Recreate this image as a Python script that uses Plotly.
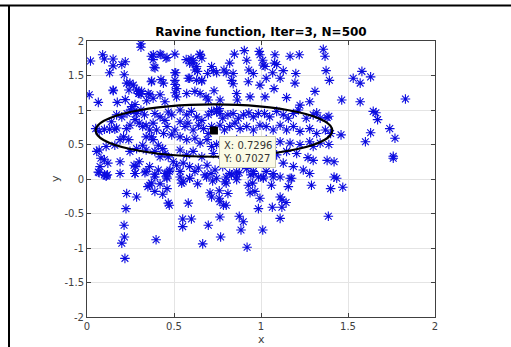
import plotly.graph_objects as go

# Sample points (x, y) of the population at iteration 3
pts_upper = [
    (0.02, 1.71), (0.09, 1.80), (0.10, 1.74), (0.15, 1.74), (0.15, 1.64), (0.20, 1.66), (0.22, 1.70),
    (0.13, 1.54), (0.31, 1.96), (0.31, 1.91), (0.37, 1.78), (0.38, 1.73), (0.385, 1.62), (0.42, 1.81),
    (0.46, 1.76), (0.505, 1.81), (0.505, 1.54), (0.57, 1.73), (0.61, 1.72), (0.59, 1.68), (0.65, 1.80),
    (0.66, 1.75), (0.62, 1.58), (0.635, 1.56), (0.716, 1.63), (0.726, 1.57), (0.693, 1.53), (0.745, 1.54),
    (0.847, 1.81), (0.904, 1.86), (0.82, 1.68), (0.787, 1.58), (0.80, 1.54), (0.84, 1.53), (0.99, 1.85),
    (0.994, 1.80), (1.01, 1.72), (1.013, 1.65), (1.023, 1.63), (0.918, 1.72), (0.93, 1.58), (0.956, 1.53),
    (1.08, 1.80), (1.077, 1.68), (1.09, 1.66), (1.067, 1.54), (1.167, 1.78), (1.22, 1.80), (1.128, 1.57),
    (1.20, 1.53), (1.358, 1.88), (1.368, 1.78), (1.374, 1.57), (1.393, 1.43), (1.53, 1.46), (1.58, 1.56),
    (1.57, 1.39), (1.63, 1.48),
    (0.013, 1.22), (0.065, 1.11), (0.15, 1.29), (0.174, 1.11), (0.22, 1.15), (0.247, 1.39), (0.266, 1.36),
    (0.295, 1.27), (0.30, 1.24), (0.285, 1.29), (0.314, 1.27), (0.37, 1.41), (0.352, 1.24), (0.38, 1.17),
    (0.42, 1.22), (0.448, 1.12), (0.505, 1.43), (0.515, 1.31), (0.515, 1.19), (0.573, 1.24), (0.59, 1.46),
    (0.63, 1.43), (0.66, 1.43), (0.62, 1.27), (0.65, 1.24), (0.684, 1.19), (0.697, 1.145), (0.73, 1.28),
    (0.765, 1.145), (0.745, 1.0), (0.76, 1.02), (0.83, 1.43), (0.84, 1.38), (0.86, 1.24), (0.864, 1.145),
    (0.927, 1.41), (0.937, 1.19), (0.994, 1.36), (1.023, 1.19), (1.03, 1.46), (1.075, 1.31), (1.11, 1.46),
    (1.147, 1.18), (1.195, 1.39), (1.224, 1.07), (1.28, 1.12), (1.31, 1.27), (1.464, 1.145), (1.57, 1.12),
    (1.83, 1.16),
    (0.214, 1.51), (0.228, 1.39), (0.241, 1.29), (0.151, 1.28), (0.297, 1.24), (0.31, 1.23), (0.372, 1.42),
    (0.257, 1.05), (0.276, 1.08), (0.343, 1.135), (0.362, 1.22), (0.381, 1.80), (0.425, 1.80), (0.454, 1.75),
    (0.391, 1.61), (0.51, 1.54), (0.506, 1.37), (0.506, 1.25), (0.425, 1.44), (0.439, 1.39), (0.598, 1.745),
    (0.611, 1.68), (0.649, 1.81), (0.63, 1.63), (0.582, 1.46), (0.659, 1.42),
]

pts_core = [
    (0.05, 0.73), (0.07, 0.69), (0.10, 0.72), (0.13, 0.72), (0.16, 0.72), (0.17, 0.74), (0.14, 0.83),
    (0.17, 0.93), (0.20, 0.90), (0.23, 0.95), (0.25, 1.0), (0.27, 0.98), (0.285, 0.95), (0.31, 1.0),
    (0.33, 0.93), (0.276, 0.86), (0.30, 0.81), (0.32, 0.76), (0.34, 0.78), (0.36, 0.71), (0.247, 0.78),
    (0.228, 0.73), (0.21, 0.61), (0.19, 0.57), (0.24, 0.57), (0.16, 0.49), (0.11, 0.47), (0.07, 0.42),
    (0.056, 0.40), (0.08, 0.30), (0.10, 0.28), (0.12, 0.23), (0.075, 0.18), (0.065, 0.10), (0.10, 0.06),
    (0.11, 0.05), (0.19, 0.25), (0.27, 0.20), (0.30, 0.25), (0.247, 0.40), (0.285, 0.44), (0.32, 0.49),
    (0.34, 0.42), (0.38, 0.57), (0.41, 0.49), (0.435, 0.44), (0.448, 0.37), (0.39, 0.95), (0.42, 0.90),
    (0.448, 0.85), (0.467, 0.97), (0.487, 0.93), (0.38, 0.81), (0.40, 0.71), (0.44, 0.66), (0.46, 0.76),
    (0.487, 0.64), (0.505, 0.71), (0.34, 0.61), (0.37, 0.61), (0.39, 0.40), (0.42, 0.32), (0.467, 0.32),
    (0.496, 0.25), (0.515, 0.20), (0.36, 0.18), (0.41, 0.13), (0.448, 0.08), (0.477, 0.13), (0.39, 0.03),
    (0.458, 0.03), (0.19, 0.08), (0.276, 0.08), (0.333, 0.09), (0.28, 0.18),
    (0.535, 1.0), (0.573, 0.93), (0.60, 0.98), (0.63, 0.90), (0.66, 0.85), (0.697, 0.93), (0.716, 0.98),
    (0.745, 0.98), (0.764, 0.95), (0.78, 0.88), (0.81, 0.93), (0.84, 0.95), (0.87, 0.88), (0.90, 0.93),
    (0.93, 0.96), (0.956, 0.90), (0.985, 0.95),
    (0.535, 0.83), (0.563, 0.76), (0.58, 0.81), (0.61, 0.71), (0.64, 0.78), (0.67, 0.73), (0.697, 0.66),
    (0.716, 0.76), (0.764, 0.78), (0.79, 0.71), (0.82, 0.76), (0.85, 0.81), (0.88, 0.73), (0.918, 0.76),
    (0.956, 0.71), (0.994, 0.78),
    (0.535, 0.61), (0.573, 0.57), (0.62, 0.59), (0.65, 0.52), (0.69, 0.57), (0.716, 0.47), (0.745, 0.50),
    (0.78, 0.54), (0.83, 0.52), (0.86, 0.57), (0.90, 0.47), (0.93, 0.50), (0.956, 0.57), (0.985, 0.54),
    (0.535, 0.42), (0.573, 0.35), (0.61, 0.40), (0.66, 0.32), (0.726, 0.37), (0.78, 0.30), (0.84, 0.35),
    (0.90, 0.32), (0.956, 0.37), (0.994, 0.28),
    (0.553, 0.23), (0.59, 0.18), (0.64, 0.16), (0.69, 0.20), (0.736, 0.13), (0.78, 0.18), (0.82, 0.08),
    (0.86, 0.10), (0.918, 0.15), (0.956, 0.08), (0.985, 0.03), (0.535, 0.03), (0.59, 0.01), (0.687, 0.03),
    (0.745, 0.01), (0.80, 0.03), (0.86, 0.04),
    (1.02, 0.95), (1.05, 0.90), (1.09, 0.98), (1.128, 0.93), (1.157, 0.88), (1.186, 0.95), (1.215, 1.0),
    (1.26, 0.88), (1.30, 0.93), (1.34, 0.88), (1.39, 0.91),
    (1.03, 0.76), (1.07, 0.71), (1.11, 0.78), (1.147, 0.71), (1.186, 0.76), (1.224, 0.69), (1.28, 0.73),
    (1.32, 0.66), (1.37, 0.71), (1.40, 0.66),
    (1.03, 0.57), (1.07, 0.50), (1.11, 0.54), (1.167, 0.52), (1.224, 0.50), (1.28, 0.54), (1.30, 0.47),
    (1.34, 0.52), (1.39, 0.50),
    (1.03, 0.37), (1.09, 0.35), (1.147, 0.40), (1.205, 0.37), (1.27, 0.31),
    (1.05, 0.25), (1.128, 0.23), (1.186, 0.18), (1.243, 0.13), (1.30, 0.27), (1.38, 0.27), (1.42, 0.25),
    (1.013, 0.03), (1.07, 0.08), (1.11, 0.03), (1.167, 0.01), (1.28, 0.08), (1.42, 0.03),
    (1.645, 0.98), (1.66, 0.96), (1.67, 0.86), (1.74, 0.73), (1.77, 0.59), (1.60, 0.54), (1.63, 0.67),
    (1.76, 0.33), (1.76, 0.30), (1.46, 0.64), (1.32, 0.96), (1.38, 0.89),
]

pts_lower = [
    (0.07, 0.09), (0.11, 0.04), (0.117, 0.06), (0.276, 0.08), (0.34, 0.11), (0.39, 0.07),
    (0.228, -0.21), (0.285, -0.26), (0.224, -0.43), (0.213, -0.67), (0.215, -0.84), (0.20, -0.93),
    (0.218, -1.15), (0.397, -0.88), (0.36, -0.09), (0.37, -0.06), (0.35, -0.11), (0.42, -0.07),
    (0.39, -0.18), (0.435, -0.22), (0.46, -0.14), (0.467, -0.35), (0.473, -0.38), (0.46, 0.08),
    (0.473, 0.11), (0.46, 0.01), (0.535, 0.11), (0.544, -0.06), (0.553, -0.04), (0.59, 0.01),
    (0.62, 0.11), (0.636, -0.07), (0.582, -0.35), (0.55, -0.58), (0.55, -0.69), (0.60, -0.58),
    (0.665, -0.94), (0.697, -0.67), (0.678, 0.06), (0.713, 0.08), (0.722, -0.03), (0.707, -0.20),
    (0.716, -0.26), (0.76, -0.17), (0.76, -0.28), (0.764, -0.33), (0.81, -0.21), (0.784, -0.38),
    (0.80, -0.38), (0.764, -0.55), (0.768, -0.84), (0.793, -0.04), (0.80, -0.06), (0.86, -0.01),
    (0.875, 0.09), (0.83, 0.06), (0.875, -0.54), (0.898, -0.62), (0.885, -0.74), (0.92, -0.99),
    (0.927, -0.09), (0.937, -0.20), (0.952, -0.06), (0.942, 0.06), (0.956, 0.11), (0.965, -0.18),
    (0.994, -0.28), (0.985, -0.43), (1.01, -0.74), (1.013, 0.01), (1.03, 0.11), (1.06, -0.09),
    (1.07, 0.03), (1.065, -0.41), (1.11, -0.26), (1.12, -0.30), (1.144, -0.34), (1.12, -0.41),
    (1.11, -0.57), (1.157, -0.11), (1.176, 0.01), (1.29, -0.09), (1.387, -0.54), (1.40, -0.14),
    (1.435, 0.01), (1.47, -0.12),
]

# Data tip (best point) and the ellipse drawn around it
tip_x, tip_y = 0.7296, 0.7027
ell_a, ell_b = 0.68, 0.38

points = pts_upper + pts_core + pts_lower
xs = [p[0] for p in points]
ys = [p[1] for p in points]

AX = "#404040"
FONT = "DejaVu Sans"
fig = go.Figure()
fig.add_trace(go.Scatter(
    x=xs, y=ys, mode="markers",
    marker=dict(symbol="asterisk-open", size=8, color="#0c0ce0",
                line=dict(color="#0c0ce0", width=1.1)),
    hoverinfo="skip", showlegend=False,
))
fig.add_shape(type="circle", xref="x", yref="y",
              x0=tip_x - ell_a, x1=tip_x + ell_a, y0=tip_y - ell_b, y1=tip_y + ell_b,
              line=dict(color="black", width=2.2))
fig.add_trace(go.Scatter(
    x=[tip_x], y=[tip_y], mode="markers",
    marker=dict(symbol="square", size=8, color="black"),
    hoverinfo="skip", showlegend=False,
))
fig.add_annotation(
    x=tip_x, y=tip_y, xref="x", yref="y", showarrow=False,
    text=f"X: {tip_x:.4f}<br>Y: {tip_y:.4f}", align="left",
    xanchor="left", yanchor="top", xshift=5, yshift=-5,
    bgcolor="#fbfbe6", bordercolor="#c8c8b0", borderwidth=1, borderpad=3,
    font=dict(family=FONT, size=10, color="#333333"),
)

# Axis labels
fig.add_annotation(x=0.5, y=0, xref="paper", yref="paper", yshift=-22, yanchor="middle",
                   text="x", showarrow=False, font=dict(family=FONT, size=11, color="#404040"))
fig.add_annotation(x=0, y=0.5, xref="paper", yref="paper", xshift=-32, xanchor="center",
                   text="y", textangle=-90, showarrow=False,
                   font=dict(family=FONT, size=11, color="#404040"))

# Outer frame lines of the figure window
fig.add_shape(type="line", xref="paper", yref="paper", x0=-0.26, x1=1.22,
              y0=(317 - 5.5) / 276, y1=(317 - 5.5) / 276, line=dict(color="black", width=2))
fig.add_shape(type="line", xref="paper", yref="paper", x0=(9 - 87) / 348, x1=(9 - 87) / 348,
              y0=(317 - 5) / 276, y1=-0.12, line=dict(color="black", width=2))

axis_common = dict(
    showgrid=True, gridcolor="#e4e4e4", gridwidth=1, zeroline=False,
    showline=True, linecolor=AX, linewidth=1, mirror="ticks",
    ticks="inside", ticklen=4, tickcolor=AX, automargin=False,
    tickfont=dict(family=FONT, size=10, color="#404040"),
)
fig.update_xaxes(range=[0, 2], tickvals=[0, 0.5, 1, 1.5, 2], ticktext=["0", "0.5", "1", "1.5", "2"],
                 **axis_common)
fig.update_yaxes(range=[-2, 2], tickvals=[-2, -1.5, -1, -0.5, 0, 0.5, 1, 1.5, 2],
                 ticktext=["-2", "-1.5", "-1", "-0.5", "0", "0.5", "1", "1.5", "2"],
                 **axis_common)
fig.update_layout(
    width=511, height=347, margin=dict(l=87, r=76, t=41, b=30),
    paper_bgcolor="white", plot_bgcolor="white",
    title=dict(text="<b>Ravine function, Iter=3, N=500</b>", x=261 / 511, xanchor="center",
               y=1 - 32 / 347, yanchor="middle", yref="container",
               font=dict(family=FONT, size=12, color="black")),
)
fig.write_html("out.html")
